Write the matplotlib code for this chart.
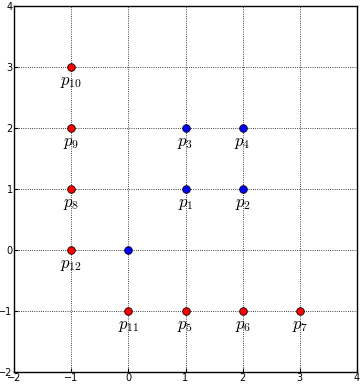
import matplotlib
matplotlib.use('Agg')
import matplotlib.pyplot as plt

plt.rcParams['mathtext.fontset'] = 'cm'

# red points
red_x = [-1, -1, -1, -1, 0, 1, 2, 3]
red_y = [3, 2, 1, 0, -1, -1, -1, -1]
red_labels = ['p_{10}', 'p_9', 'p_8', 'p_{12}', 'p_{11}', 'p_5', 'p_6', 'p_7']

# blue points
blue_x = [1, 2, 1, 2, 0]
blue_y = [2, 2, 1, 1, 0]
blue_labels = ['p_3', 'p_4', 'p_1', 'p_2', '']

fig = plt.figure(figsize=(3.62, 3.84), dpi=100)
ax = fig.add_axes([0.0387, 0.031, 0.9475, 0.953])

ax.plot(red_x, red_y, 'o', color='red', markeredgecolor='black',
        markeredgewidth=0.6, markersize=5.5, zorder=3)
ax.plot(blue_x, blue_y, 'o', color='blue', markeredgecolor='black',
        markeredgewidth=0.6, markersize=5.5, zorder=3)

for x, y, lab in zip(red_x + blue_x, red_y + blue_y, red_labels + blue_labels):
    if lab:
        ax.annotate('$' + lab + '$', (x, y), xytext=(0, -3.5), textcoords='offset points',
                    ha='center', va='top', fontsize=12)

ax.set_xlim(-2, 4)
ax.set_ylim(-2, 4)
ax.set_xticks(range(-2, 5))
ax.set_yticks(range(-2, 5))
ax.tick_params(direction='in', labelsize=7, length=3, pad=1)
ax.grid(True, linestyle=':', color='black', linewidth=0.6)
for s in ax.spines.values():
    s.set_linewidth(1.0)

fig.savefig('out.png', dpi=100)
